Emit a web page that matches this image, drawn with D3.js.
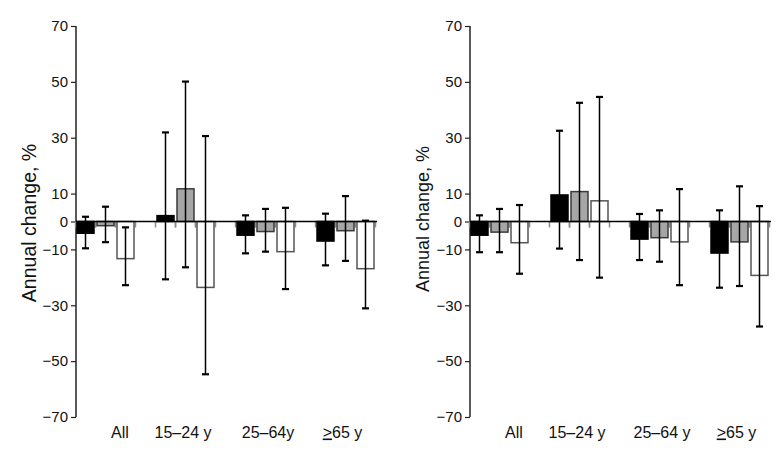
<!DOCTYPE html>
<html>
<head>
<meta charset="utf-8">
<script src="https://cdn.jsdelivr.net/npm/d3@7/dist/d3.min.js"></script>
<style>
  html, body { margin: 0; padding: 0; background: #fff; }
  svg { display: block; font-family: "Liberation Sans", Arial, sans-serif; }
</style>
</head>
<body>
<svg id="chart" width="782" height="461"></svg>
<script>
// ---------- data ----------
const categories = ["All", "15\u201324 y", "25\u201364y", "\u226565 y"];
const categoriesRight = ["All", "15\u201324 y", "25\u201364 y", "\u226565 y"];
const series = ["s1", "s2", "s3"];
const yTicks = [70, 50, 30, 10, 0, -10, -30, -50, -70];

// Left panel: values, lower and upper error bounds per series (order: categories)
const leftS1 = [-4.2, 2.1, -4.9, -7.0];
const leftS1Lo = [-9.6, -20.7, -11.4, -15.7];
const leftS1Hi = [1.7, 31.9, 2.2, 2.8];
const leftS2 = [-1.5, 11.7, -3.6, -3.3];
const leftS2Lo = [-7.4, -16.4, -10.8, -14.1];
const leftS2Hi = [5.3, 50.1, 4.5, 9.1];
const leftS3 = [-13.3, -23.6, -10.8, -16.9];
const leftS3Lo = [-22.8, -54.7, -24.2, -31.1];
const leftS3Hi = [-2.1, 30.6, 4.9, 0.3];

// Right panel
const rightS1 = [-4.9, 9.5, -6.3, -11.3];
const rightS1Lo = [-11.0, -9.7, -13.8, -23.7];
const rightS1Hi = [2.2, 32.5, 2.7, 4.0];
const rightS2 = [-3.8, 10.7, -5.8, -7.3];
const rightS2Lo = [-11.0, -13.8, -14.4, -23.1];
const rightS2Hi = [4.5, 42.5, 4.0, 12.6];
const rightS3 = [-7.6, 7.4, -7.3, -19.3];
const rightS3Lo = [-18.7, -20.1, -22.8, -37.6];
const rightS3Hi = [5.9, 44.6, 11.6, 5.5];

// ---------- styles ----------
const fills = ["#000000", "#a6a6a6", "#ffffff"];
const strokes = ["#000000", "#3a3a3a", "#555555"];
const labelDx = [14, -3, 2, -3.5];

const svg = d3.select("#chart");

function buildRows(labels, vals, los, his) {
  return labels.map((c, i) => ({
    cat: c,
    items: series.map((s, j) => ({ s, j, v: vals[j][i], lo: los[j][i], hi: his[j][i] }))
  }));
}

const panels = [
  { offset: 0, labels: categories, titleSize: 19.5, titleX: 36, titleY: 223,
    rows: buildRows(categories, [leftS1, leftS2, leftS3], [leftS1Lo, leftS2Lo, leftS3Lo], [leftS1Hi, leftS2Hi, leftS3Hi]) },
  { offset: 394, labels: categoriesRight, titleSize: 18, titleX: 35, titleY: 219,
    rows: buildRows(categoriesRight, [rightS1, rightS2, rightS3], [rightS1Lo, rightS2Lo, rightS3Lo], [rightS1Hi, rightS2Hi, rightS3Hi]) }
];

const y = d3.scaleLinear().domain([-70, 70]).range([417, 26]);

panels.forEach(p => {
  const g = svg.append("g").attr("transform", `translate(${p.offset},0)`);
  const x = d3.scaleBand().domain(p.labels).range([66, 386]).paddingInner(0.275).paddingOuter(0.1375);
  const xs = d3.scaleBand().domain(series).range([0, 57]).paddingInner(0.15).paddingOuter(0);
  const axisX = 76;
  const y0 = y(0);

  // y axis
  const yAxis = d3.axisLeft(y).tickValues(yTicks).tickSize(5).tickPadding(3)
    .tickFormat(d => d < 0 ? "\u2212" + Math.abs(d) : String(d));
  const ag = g.append("g").attr("transform", `translate(${axisX},0)`).call(yAxis);
  ag.attr("font-size", 15).attr("font-family", "'Liberation Sans', Arial, sans-serif");
  ag.select(".domain").attr("stroke", "#222").attr("stroke-width", 1.5).attr("d", `M-0,${y(70)}V${y(-70)}`);
  ag.selectAll(".tick line").attr("stroke", "#222").attr("stroke-width", 1.2);
  ag.selectAll(".tick text").attr("fill", "#111");

  // y title
  g.append("text")
    .attr("transform", `translate(${p.titleX},${p.titleY}) rotate(-90)`)
    .attr("text-anchor", "middle")
    .attr("font-size", p.titleSize)
    .attr("fill", "#111")
    .text("Annual change, %");

  // grey ticks around bar edges at zero line
  p.rows.forEach(r => {
    r.items.forEach(it => {
      const bx = x(r.cat) + xs(it.s);
      [bx - 1.5, bx + xs.bandwidth() + 1.5].forEach(tx => {
        g.append("line").attr("x1", tx).attr("x2", tx)
          .attr("y1", y0).attr("y2", y0 + 6)
          .attr("stroke", "#8a8a8a").attr("stroke-width", 1.5);
      });
    });
  });

  // bars
  p.rows.forEach(r => {
    const gg = g.append("g").attr("transform", `translate(${x(r.cat)},0)`);
    gg.selectAll("rect").data(r.items).join("rect")
      .attr("x", d => xs(d.s))
      .attr("width", xs.bandwidth())
      .attr("y", d => y(Math.max(0, d.v)))
      .attr("height", d => Math.abs(y(d.v) - y0))
      .attr("fill", d => fills[d.j])
      .attr("stroke", d => strokes[d.j])
      .attr("stroke-width", 1.5);
  });

  // zero line
  const lastCat = p.labels[p.labels.length - 1];
  g.append("line").attr("x1", axisX).attr("x2", x(lastCat) + x.bandwidth() + 2)
    .attr("y1", y0).attr("y2", y0).attr("stroke", "#000").attr("stroke-width", 1.5);

  // error bars
  p.rows.forEach(r => {
    const gg = g.append("g").attr("transform", `translate(${x(r.cat)},0)`);
    r.items.forEach(d => {
      const cx = xs(d.s) + xs.bandwidth() / 2;
      gg.append("line").attr("x1", cx).attr("x2", cx)
        .attr("y1", y(d.lo)).attr("y2", y(d.hi))
        .attr("stroke", "#000").attr("stroke-width", 1.5);
      [d.lo, d.hi].forEach(v => {
        gg.append("line").attr("x1", cx - 3.5).attr("x2", cx + 3.5)
          .attr("y1", y(v)).attr("y2", y(v))
          .attr("stroke", "#000").attr("stroke-width", 2.2);
      });
    });
  });

  // category labels
  p.labels.forEach((c, i) => {
    const t = g.append("text")
      .attr("x", x(c) + x.bandwidth() / 2 + labelDx[i])
      .attr("y", 437.5)
      .attr("text-anchor", "middle")
      .attr("font-size", 16)
      .attr("fill", "#111");
    if (c.startsWith("\u2265")) {
      t.append("tspan").attr("text-decoration", "underline").text(">");
      t.append("tspan").text(c.slice(1));
    } else {
      t.text(c);
    }
  });
});
</script>
</body>
</html>
